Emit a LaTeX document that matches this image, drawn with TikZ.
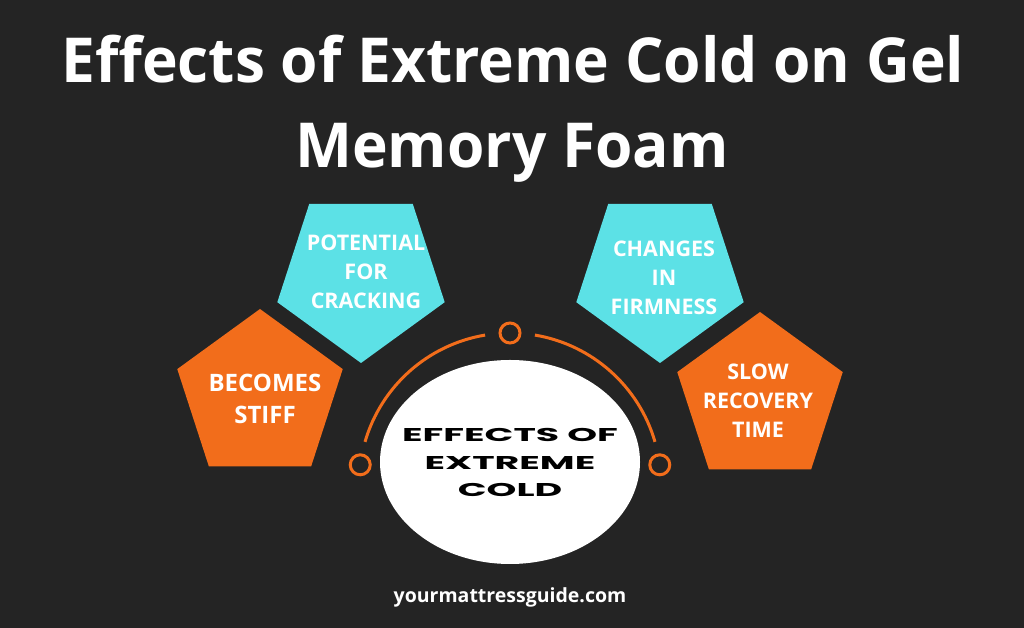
\documentclass[tikz,border=0pt]{standalone}
\usepackage{fontspec}
\setmainfont{Open Sans}
\newfontfamily\titlefont[FakeStretch=0.975]{Open Sans}
\newfontfamily\ringfont[FakeStretch=2.05]{Poppins}
\usetikzlibrary{shapes.geometric}
\definecolor{bgdark}{HTML}{242424}
\definecolor{foamcyan}{HTML}{5CE1E6}
\definecolor{foamorange}{HTML}{F26D1B}
\tikzset{
  title/.style={anchor=base, text=white, inner sep=0pt, font=\titlefont\bfseries\fontsize{62}{62}\selectfont},
  pentcyan/.style={regular polygon, regular polygon sides=5, shape border rotate=180, minimum size=176pt, inner sep=0pt, fill=foamcyan},
  pentorange/.style={regular polygon, regular polygon sides=5, minimum size=174pt, inner sep=0pt, fill=foamorange},
  pentlabel/.style={text=white, align=center, inner sep=0pt, font=\bfseries\fontsize{21.5}{29}\selectfont},
  ring/.style={draw=foamorange, line width=3pt},
  ringdot/.style={circle, draw=foamorange, line width=3pt, minimum size=20pt, inner sep=0pt},
  coretext/.style={text=black, align=center, inner sep=0pt, font=\ringfont\bfseries\fontsize{18.5}{27.5}\selectfont}
}
\begin{document}
\begin{tikzpicture}[x=1pt,y=1pt]
                % Background
                \fill[bgdark] (0,0) rectangle (1024,628);%
                
                % Title lines
                \node[title] (title1) at (513,545) {Effects of Extreme Cold on Gel};%
                \node[title] (title2) at (512,460) {Memory Foam};%
                
                % Drawing pentagons
                \node[pentcyan] (crack) at (361,353) {};%
                \node[pentcyan] (firm) at (660,353) {};%
                \node[pentorange] (stiff) at (260,232) {};%
                \node[pentorange] (slow) at (760,229) {};%
                
                % Marking pentagon labels
                \node[pentlabel] (cracktext) at (366,356.5) {POTENTIAL\\FOR\\CRACKING};%
                \node[pentlabel, font=\bfseries\fontsize{24}{32}\selectfont] (stifftext) at (265,229) {BECOMES\\STIFF};%
                \node[pentlabel] (firmtext) at (664,350.5) {CHANGES\\IN\\FIRMNESS};%
                \node[pentlabel] (slowtext) at (758,227.5) {SLOW\\RECOVERY\\TIME};%
                
                % Drawing central ellipse
                \coordinate (hub) at (510,144);%
                \node[ellipse, fill=white, minimum width=260pt, minimum height=204pt, inner sep=0pt] (core) at (510,166) {};%
                
                % Drawing arc pieces
                \draw[ring] ([shift={(163.8:151pt)}]hub) arc[start angle=163.8, end angle=99.5, radius=151pt];%
                \draw[ring] ([shift={(80.5:151pt)}]hub) arc[start angle=80.5, end angle=16.2, radius=151pt];%
                
                % Marking ring dots
                \node[ringdot] (dotleft) at ([shift={(172.7:151pt)}]hub) {};%
                \node[ringdot] (dottop) at ([shift={(90:151pt)}]hub) {};%
                \node[ringdot] (dotright) at ([shift={(7.3:151pt)}]hub) {};%
                
                % Marking central text
                \node[coretext] (corelabel) at (510,165.5) {EFFECTS OF\\EXTREME\\COLD};%
                
                % Footer
                \node[text=white, anchor=base, inner sep=0pt, font=\bfseries\fontsize{19.5}{19.5}\selectfont] (site) at (510,25) {yourmattressguide.com};%
\end{tikzpicture}
\end{document}
